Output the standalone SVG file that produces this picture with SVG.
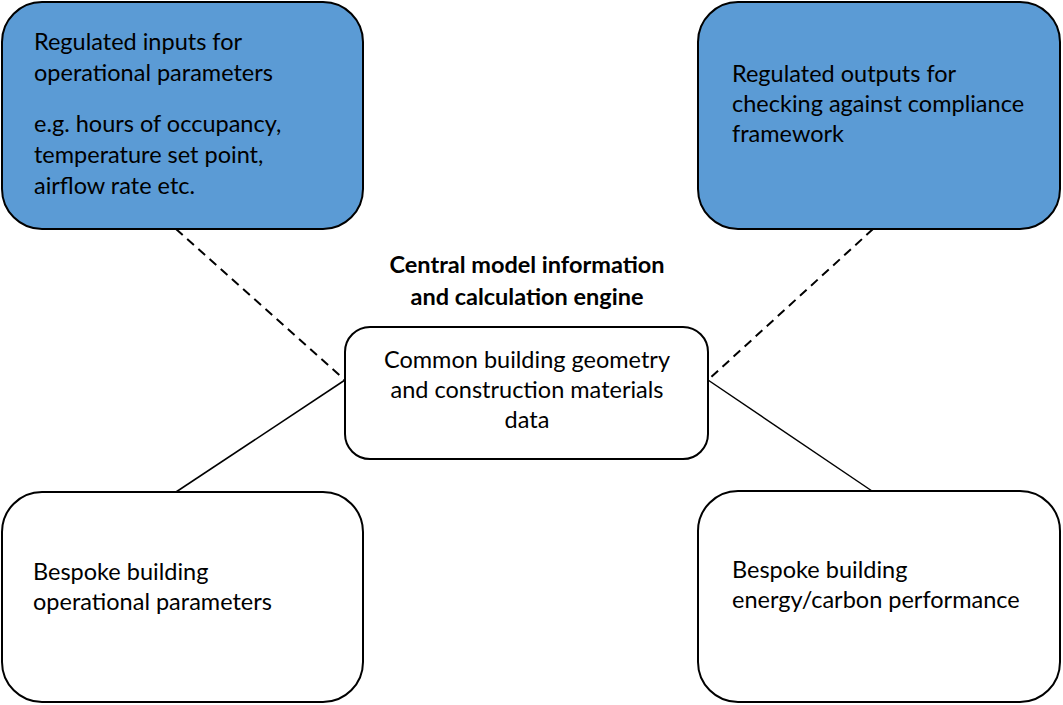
<svg xmlns="http://www.w3.org/2000/svg" width="1063" height="705" viewBox="0 0 1063 705">
<style>
.blue{fill:#5b9bd5;stroke:#000;stroke-width:2}
.white{fill:#fff;stroke:#000;stroke-width:2}
.t{font-family:Lato,"Liberation Sans",sans-serif;font-size:23.5px;fill:#000}
.c{text-anchor:middle}
.b{font-weight:bold}
.dash{stroke:#000;stroke-width:2;stroke-dasharray:9 6;fill:none}
.solid{stroke:#000;stroke-width:1.5;fill:none}
</style>
<rect width="1063" height="705" fill="#fff"/>
<g id="connectors">
<line class="dash" x1="176" y1="229" x2="345" y2="380"/>
<line class="dash" x1="873" y1="229" x2="708" y2="380"/>
<line class="solid" x1="345" y1="380" x2="176" y2="492"/>
<line class="solid" x1="708" y1="380" x2="872" y2="491"/>
</g>
<g id="regulated-inputs">
<rect class="blue" x="2" y="2" width="361" height="227" rx="40"/>
<text class="t" x="34" y="50">Regulated inputs for</text>
<text class="t" x="34" y="81">operational parameters</text>
<text class="t" x="34" y="132">e.g. hours of occupancy,</text>
<text class="t" x="34" y="163">temperature set point,</text>
<text class="t" x="34" y="194">airflow rate etc.</text>
</g>
<g id="regulated-outputs">
<rect class="blue" x="698" y="2" width="362" height="227" rx="40"/>
<text class="t" x="732" y="82">Regulated outputs for</text>
<text class="t" x="732" y="112">checking against compliance</text>
<text class="t" x="732" y="142">framework</text>
</g>
<g id="central-title">
<text class="t c b" x="527" y="273">Central model information</text>
<text class="t c b" x="527" y="305">and calculation engine</text>
</g>
<g id="central">
<rect class="white" x="345" y="327" width="363" height="132" rx="25"/>
<text class="t c" x="527" y="368">Common building geometry</text>
<text class="t c" x="527" y="398">and construction materials</text>
<text class="t c" x="527" y="428">data</text>
</g>
<g id="bespoke-operational">
<rect class="white" x="2" y="492" width="361" height="210" rx="40"/>
<text class="t" x="33" y="580">Bespoke building</text>
<text class="t" x="33" y="610">operational parameters</text>
</g>
<g id="bespoke-performance">
<rect class="white" x="698" y="491" width="362" height="211" rx="40"/>
<text class="t" x="732" y="578">Bespoke building</text>
<text class="t" x="732" y="608">energy/carbon performance</text>
</g>
</svg>
